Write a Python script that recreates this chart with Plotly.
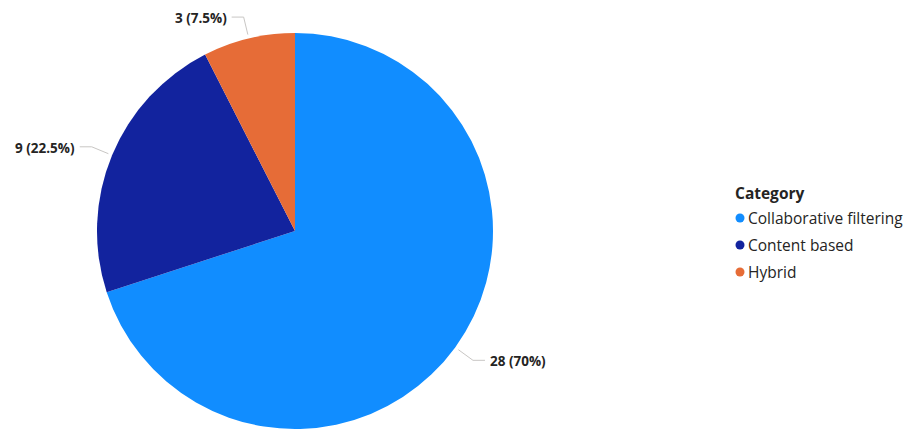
import math
import plotly.graph_objects as go

# Recommender approach breakdown
categories = ["Collaborative filtering", "Content based", "Hybrid"]
counts = [28, 9, 3]
colors = ["#118DFF", "#12239E", "#E66C37"]
legend_title = "Category"

W, H = 908, 430
CX, CY, R = 295, 231, 198  # pie centre and radius in px
FONT = "Open Sans"
TEXT_COLOR = "#252423"
LINE_COLOR = "#C8C6C4"


def px(x, y):
    """Pixel position -> paper coordinates."""
    return x / W, 1 - y / H


fig = go.Figure(
    go.Pie(
        labels=categories,
        values=counts,
        sort=False,
        direction="clockwise",
        rotation=0,
        marker=dict(colors=colors, line=dict(width=0)),
        textinfo="none",
        hoverinfo="label+value+percent",
        showlegend=False,
        domain=dict(x=[(CX - R) / W, (CX + R) / W],
                    y=[(H - CY - R) / H, (H - CY + R) / H]),
    )
)

# Outside data labels with elbow leader lines
total = sum(counts)
annotations, shapes = [], []
cum = 0
for cat, v in zip(categories, counts):
    theta = math.radians((cum + v / 2) / total * 360)
    cum += v
    s, c = math.sin(theta), math.cos(theta)
    x0, y0 = CX + (R + 4) * s, CY - (R + 4) * c
    x1, y1 = CX + (R + 22) * s, CY - (R + 22) * c
    side = 1 if s >= 0 else -1
    x2 = x1 + side * 12
    p0, p1, p2 = px(x0, y0), px(x1, y1), px(x2, y1)
    shapes.append(dict(
        type="path", xref="paper", yref="paper",
        path=f"M {p0[0]} {p0[1]} L {p1[0]} {p1[1]} L {p2[0]} {p2[1]}",
        line=dict(color=LINE_COLOR, width=1),
    ))
    pct = v / total * 100
    pct_txt = f"{pct:.1f}".rstrip("0").rstrip(".")
    lx, ly = px(x2 + side * 3, y1 + 1)
    annotations.append(dict(
        x=lx, y=ly, xref="paper", yref="paper", showarrow=False,
        xanchor="left" if side > 0 else "right", yanchor="middle",
        text=f"<b>{v} ({pct_txt}%)</b>",
        font=dict(family=FONT, size=13.5, color=TEXT_COLOR),
    ))

# Legend: title plus circle markers and category names
tx, ty = px(733, 193)
annotations.append(dict(
    x=tx, y=ty, xref="paper", yref="paper", showarrow=False,
    xanchor="left", yanchor="middle", text=f"<b>{legend_title}</b>",
    font=dict(family=FONT, size=15.5, color=TEXT_COLOR),
))
for i, (cat, col) in enumerate(zip(categories, colors)):
    yy = 218 + i * 27
    a, b = px(735.5, yy - 4.5)
    c2, d = px(744.5, yy + 4.5)
    shapes.append(dict(type="circle", xref="paper", yref="paper",
                       x0=a, y0=d, x1=c2, y1=b,
                       fillcolor=col, line=dict(width=0)))
    lx, ly = px(746, yy)
    annotations.append(dict(
        x=lx, y=ly, xref="paper", yref="paper", showarrow=False,
        xanchor="left", yanchor="middle", text=cat,
        font=dict(family=FONT, size=15.5, color=TEXT_COLOR),
    ))

fig.update_layout(
    width=W, height=H,
    margin=dict(l=0, r=0, t=0, b=0),
    paper_bgcolor="white", plot_bgcolor="white",
    annotations=annotations, shapes=shapes,
)

fig.write_html("out.html")
